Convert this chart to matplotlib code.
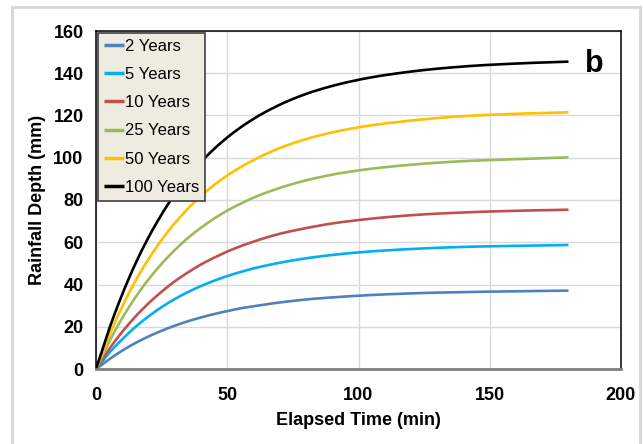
import numpy as np
import matplotlib
matplotlib.use('Agg')
import matplotlib.pyplot as plt
from matplotlib.patches import Rectangle

plt.rcParams['font.family'] = ['Liberation Sans', 'DejaVu Sans']

# elapsed time (min) and cumulative rainfall depth (mm) per return period
time_min = [0, 5, 10, 15, 20, 25, 30, 35, 40, 45, 50, 55, 60, 70, 80, 90, 100, 120, 140, 160, 180]
depth_2yr = [0, 4.6, 8.7, 12.3, 15.4, 18.1, 20.5, 22.6, 24.4, 26.0, 27.4, 28.7, 29.7,
             31.5, 32.9, 33.9, 34.7, 35.8, 36.4, 36.8, 37.1]
depth_5yr = [0, 7.6, 14.1, 19.9, 24.9, 29.3, 33.1, 36.4, 39.3, 41.8, 44.0, 45.9, 47.6,
             50.3, 52.4, 54.0, 55.2, 56.8, 57.8, 58.3, 58.7]
depth_10yr = [0, 9.4, 17.6, 24.8, 31.1, 36.6, 41.5, 45.7, 49.5, 52.7, 55.6, 58.1, 60.3,
              64.0, 66.7, 68.9, 70.5, 72.8, 74.1, 74.9, 75.4]
depth_25yr = [0, 12.9, 24.1, 33.9, 42.4, 49.8, 56.3, 62.0, 66.9, 71.2, 75.0, 78.2, 81.1,
              85.7, 89.3, 92.0, 94.0, 96.7, 98.4, 99.3, 100.2]
depth_50yr = [0, 15.8, 29.6, 41.6, 52.0, 61.1, 69.0, 75.9, 81.9, 87.1, 91.6, 95.5, 98.9,
              104.6, 108.8, 112.0, 114.4, 117.6, 119.7, 120.8, 121.5]
depth_100yr = [0, 18.9, 35.4, 49.8, 62.3, 73.2, 82.7, 91.0, 98.0, 104.2, 109.6, 114.3, 118.4,
               125.1, 130.2, 134.0, 136.9, 140.8, 143.2, 144.6, 145.5]

series = [
    ('2 Years', depth_2yr, '#4f81bd'),
    ('5 Years', depth_5yr, '#00b0f0'),
    ('10 Years', depth_10yr, '#c0504d'),
    ('25 Years', depth_25yr, '#9bbb59'),
    ('50 Years', depth_50yr, '#ffc000'),
    ('100 Years', depth_100yr, '#000000'),
]


def smooth(x, y, n=20):
    # cubic Hermite through the points, tangents from neighbouring slopes
    x = np.asarray(x, float)
    y = np.asarray(y, float)
    m = np.gradient(y, x)
    xs, ys = [], []
    for i in range(len(x) - 1):
        h = x[i + 1] - x[i]
        s = np.linspace(0, 1, n, endpoint=False)
        h00 = 2*s**3 - 3*s**2 + 1
        h10 = s**3 - 2*s**2 + s
        h01 = -2*s**3 + 3*s**2
        h11 = s**3 - s**2
        xs.append(x[i] + s*h)
        ys.append(h00*y[i] + h10*h*m[i] + h01*y[i + 1] + h11*h*m[i + 1])
    xs.append([x[-1]])
    ys.append([y[-1]])
    return np.concatenate(xs), np.concatenate(ys)


fig = plt.figure(figsize=(6.43, 4.44), dpi=100)
ax = fig.add_axes([96/643, 75/444, 525/643, 338/444])

for label, vals, col in series:
    sx, sy = smooth(time_min, vals)
    ax.plot(sx, sy, color=col, lw=1.9, label=label, solid_capstyle='butt')

ax.set_xlim(0, 200)
ax.set_ylim(0, 160)
ax.set_xticks(range(0, 201, 50))
ax.set_yticks(range(0, 161, 20))
ax.grid(True, color='#d9d9d9', lw=1)
ax.set_axisbelow(True)
ax.tick_params(length=0, labelsize=13)
ax.tick_params(axis='x', pad=13)
ax.tick_params(axis='y', pad=9)
for t in ax.get_xticklabels() + ax.get_yticklabels():
    t.set_fontweight('bold')

for side in ['left', 'top', 'right']:
    ax.spines[side].set_color('black')
    ax.spines[side].set_linewidth(1.1)
ax.spines['bottom'].set_color('#808080')
ax.spines['bottom'].set_linewidth(2)

ax.set_xlabel('Elapsed Time (min)', fontsize=13, fontweight='bold')
ax.set_ylabel('Rainfall Depth (mm)', fontsize=13, fontweight='bold')
ax.xaxis.set_label_coords(0.5, -0.127)
ax.yaxis.set_label_coords(-0.095, 0.5)

leg = ax.legend(loc='upper left', bbox_to_anchor=(0.004, 0.994), borderaxespad=0,
                fontsize=12, handlelength=1.2, handletextpad=0.05, labelspacing=0.79,
                borderpad=0.35, fancybox=False, framealpha=1)
leg.get_frame().set_facecolor('#eeece1')
leg.get_frame().set_edgecolor('#404040')
leg.get_frame().set_linewidth(1.2)
for h in leg.get_lines():
    h.set_linewidth(2.5)

ax.text(0.949, 0.902, 'b', transform=ax.transAxes, fontsize=22, fontweight='bold',
        ha='center', va='center')

# light grey frame around the figure
fig.patches.append(Rectangle((12/643, -0.05), 628/643, 437/444 + 0.05,
                             transform=fig.transFigure, fill=False,
                             edgecolor='#d9d9d9', lw=2.2))

fig.savefig('out.png', dpi=100)
